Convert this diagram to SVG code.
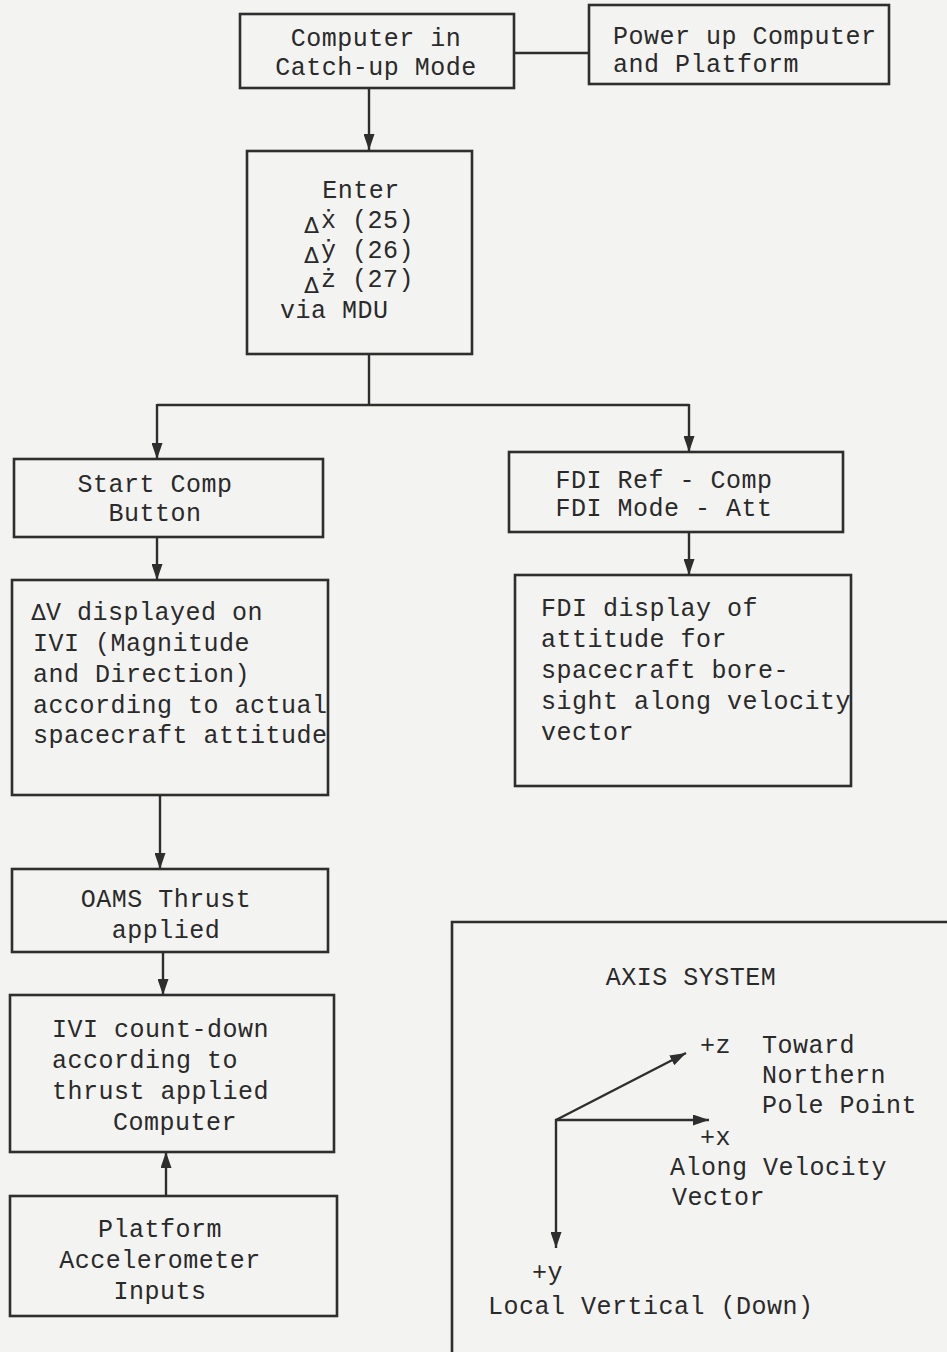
<svg xmlns="http://www.w3.org/2000/svg" width="947" height="1352" viewBox="0 0 947 1352">
<style>
.box{fill:none;stroke:#2e2e2e;stroke-width:2.6}
.ln{fill:none;stroke:#2e2e2e;stroke-width:2.4}
text{font-family:"Liberation Mono","Courier New",monospace;font-size:25px;fill:#2a2a2a;letter-spacing:0.5px}
.c{text-anchor:middle}
text.d,tspan.d{font-family:"DejaVu Sans",sans-serif;font-size:22px;letter-spacing:0}
</style>
<defs>
<marker id="ah" viewBox="0 0 16 11" refX="16" refY="5.5" markerWidth="16" markerHeight="11" markerUnits="userSpaceOnUse" orient="auto">
<path d="M0,0 L16,5.5 L0,11 Z" fill="#2e2e2e"/>
</marker>
</defs>
<rect width="947" height="1352" fill="#f3f3f1"/>

<g id="connectors">
<line class="ln" x1="514" y1="53" x2="589" y2="53"/>
<line class="ln" x1="369" y1="88" x2="369" y2="150" marker-end="url(#ah)"/>
<polyline class="ln" points="369,354 369,405"/>
<polyline class="ln" points="157,405 689,405"/>
<line class="ln" x1="157" y1="404" x2="157" y2="459" marker-end="url(#ah)"/>
<line class="ln" x1="689" y1="404" x2="689" y2="452" marker-end="url(#ah)"/>
<line class="ln" x1="157" y1="537" x2="157" y2="580" marker-end="url(#ah)"/>
<line class="ln" x1="689" y1="532" x2="689" y2="575" marker-end="url(#ah)"/>
<line class="ln" x1="160" y1="795" x2="160" y2="869" marker-end="url(#ah)"/>
<line class="ln" x1="163" y1="952" x2="163" y2="995" marker-end="url(#ah)"/>
<line class="ln" x1="166" y1="1196" x2="166" y2="1152" marker-end="url(#ah)"/>
</g>

<g id="n-catchup">
<rect class="box" x="240" y="14" width="274" height="74"/>
<text class="c" x="376" y="46">Computer in</text>
<text class="c" x="376" y="75">Catch-up Mode</text>
</g>

<g id="n-powerup">
<rect class="box" x="589" y="5" width="300" height="79"/>
<text x="613" y="44">Power up Computer</text>
<text x="613" y="72">and Platform</text>
</g>

<g id="n-enter">
<rect class="box" x="247" y="151" width="225" height="203"/>
<text class="c" x="361" y="198">Enter</text>
<text class="d" x="304" y="233">Δ</text><text x="321" y="228">ẋ (25)</text>
<text class="d" x="304" y="263">Δ</text><text x="321" y="258">ẏ (26)</text>
<text class="d" x="304" y="293">Δ</text><text x="321" y="287">ż (27)</text>
<text x="280" y="318">via MDU</text>
</g>

<g id="n-start">
<rect class="box" x="14" y="459" width="309" height="78"/>
<text class="c" x="155" y="492">Start Comp</text>
<text class="c" x="155" y="521">Button</text>
</g>

<g id="n-fdiref">
<rect class="box" x="509" y="452" width="334" height="80"/>
<text class="c" x="664" y="488">FDI Ref - Comp</text>
<text class="c" x="664" y="516">FDI Mode - Att</text>
</g>

<g id="n-dv">
<rect class="box" x="12" y="580" width="316" height="215"/>
<text x="31" y="620"><tspan class="d">Δ</tspan>V displayed on</text>
<text x="33" y="651">IVI (Magnitude</text>
<text x="33" y="682">and Direction)</text>
<text x="33" y="713">according to actual</text>
<text x="33" y="743">spacecraft attitude</text>
</g>

<g id="n-fdidisp">
<rect class="box" x="515" y="575" width="336" height="211"/>
<text x="541" y="616">FDI display of</text>
<text x="541" y="647">attitude for</text>
<text x="541" y="678">spacecraft bore-</text>
<text x="541" y="709">sight along velocity</text>
<text x="541" y="740">vector</text>
</g>

<g id="n-oams">
<rect class="box" x="12" y="869" width="316" height="83"/>
<text class="c" x="166" y="907">OAMS Thrust</text>
<text class="c" x="166" y="938">applied</text>
</g>

<g id="n-ivi">
<rect class="box" x="10" y="995" width="324" height="157"/>
<text x="52" y="1037">IVI count-down</text>
<text x="52" y="1068">according to</text>
<text x="52" y="1099">thrust applied</text>
<text x="113" y="1130">Computer</text>
</g>

<g id="n-platform">
<rect class="box" x="10" y="1196" width="327" height="120"/>
<text class="c" x="160" y="1237">Platform</text>
<text class="c" x="160" y="1268">Accelerometer</text>
<text class="c" x="160" y="1299">Inputs</text>
</g>

<g id="n-axis">
<polyline class="box" points="452,1352 452,922 960,922"/>
<text class="c" x="691" y="985">AXIS SYSTEM</text>
<line class="ln" x1="556" y1="1120" x2="686" y2="1053" marker-end="url(#ah)"/>
<line class="ln" x1="555" y1="1120" x2="709" y2="1120" marker-end="url(#ah)"/>
<line class="ln" x1="556" y1="1119" x2="556" y2="1248" marker-end="url(#ah)"/>
<text x="700" y="1053">+z</text>
<text x="762" y="1053">Toward</text>
<text x="762" y="1083">Northern</text>
<text x="762" y="1113">Pole Point</text>
<text x="700" y="1145">+x</text>
<text x="670" y="1175">Along Velocity</text>
<text x="672" y="1205">Vector</text>
<text x="532" y="1280">+y</text>
<text x="488" y="1314">Local Vertical (Down)</text>
</g>
</svg>
